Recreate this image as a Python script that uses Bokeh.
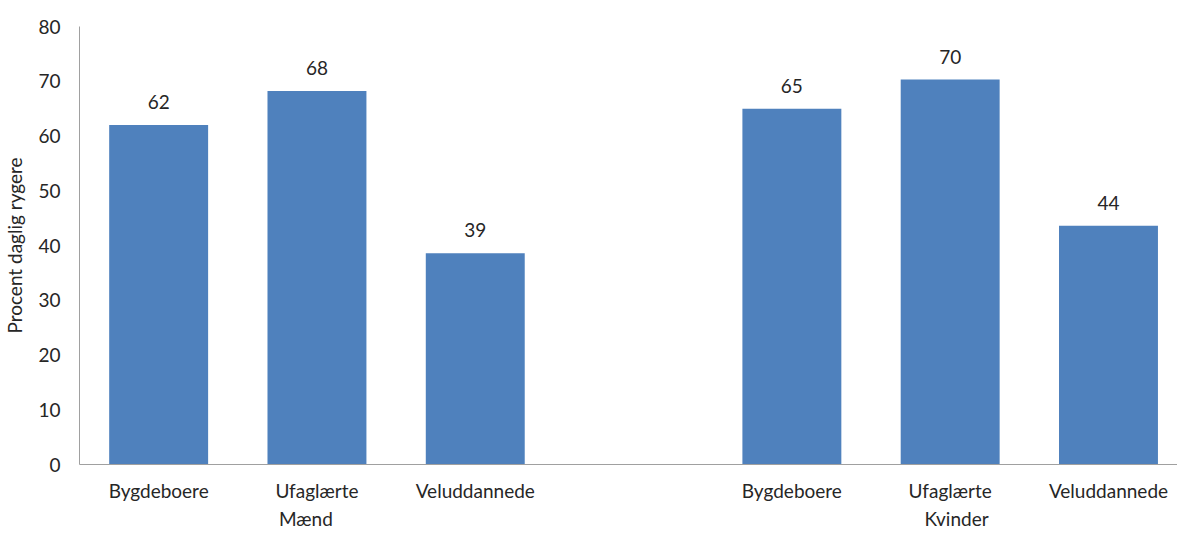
from bokeh.plotting import figure
from bokeh.models import FixedTicker, LinearAxis, ColumnDataSource, Range1d
from bokeh.core.properties import value
from bokeh.embed import file_html
from bokeh.resources import INLINE

# ---- data ----
groups = ["Mænd", "Kvinder"]
categories = ["Bygdeboere", "Ufaglærte", "Veluddannede"]
maend = [62.0, 68.2, 38.6]
kvinder = [65.0, 70.3, 43.6]
y_ticks = [0, 10, 20, 30, 40, 50, 60, 70, 80]
y_label = "Procent daglig rygere"

# ---- styles ----
FONT = "Lato"
TEXT = "#262626"
AXIS = "#A0A0A0"
BAR = "#4F81BD"
FS = "19px"

# slots: group 1 at 0..2, empty slot 3, group 2 at 4..6
xs, vals, labels = [], [], []
for gi, series in enumerate([maend, kvinder]):
    for ci, v in enumerate(series):
        xs.append(gi * 4 + ci + 0.5)
        vals.append(v)
        labels.append(categories[ci])
src = ColumnDataSource(dict(x=xs, top=vals, txt=[str(int(round(v))) for v in vals]))

p = figure(width=1177, height=534, output_backend="svg", toolbar_location=None,
           x_range=Range1d(0, 6.936), y_range=Range1d(0, 80),
           min_border_left=79, min_border_right=0, min_border_top=26,
           min_border_bottom=70)
p.outline_line_color = None
p.grid.visible = False
p.background_fill_color = "white"
p.border_fill_color = "white"

p.vbar(x="x", top="top", width=0.625, bottom=0, source=src,
       fill_color=BAR, line_color=None)
p.text(x="x", y="top", text="txt", source=src, y_offset=-23,
       text_align="center", text_baseline="alphabetic",
       text_font=value(FONT), text_font_size=FS, text_color=TEXT)


def plain(axis, standoff):
    axis.major_tick_line_color = None
    axis.minor_tick_line_color = None
    axis.major_tick_out = 0
    axis.major_tick_in = 0
    axis.minor_tick_out = 0
    axis.minor_tick_in = 0
    axis.major_label_standoff = standoff
    axis.major_label_text_font = FONT
    axis.major_label_text_font_size = FS
    axis.major_label_text_color = TEXT


# y axis
ya = p.yaxis[0]
ya.ticker = FixedTicker(ticks=y_ticks)
ya.axis_line_color = AXIS
plain(ya, 19)
ya.axis_label = y_label
ya.axis_label_text_font = FONT
ya.axis_label_text_font_size = "19px"
ya.axis_label_text_font_style = "normal"
ya.axis_label_text_color = TEXT
ya.axis_label_standoff = 9

# x axis (categories)
xa = p.xaxis[0]
xa.ticker = FixedTicker(ticks=xs)
xa.major_label_overrides = {x: l for x, l in zip(xs, labels)}
xa.axis_line_color = AXIS
plain(xa, 14)

# group axis
group_centers = [1.5 - 0.07, 5.5 + 0.04]
ga = LinearAxis(ticker=FixedTicker(ticks=group_centers),
                major_label_overrides={c: g for c, g in zip(group_centers, groups)})
ga.axis_line_color = None
plain(ga, 2)
p.add_layout(ga, "below")

open("out.html", "w").write(file_html(p, INLINE))
